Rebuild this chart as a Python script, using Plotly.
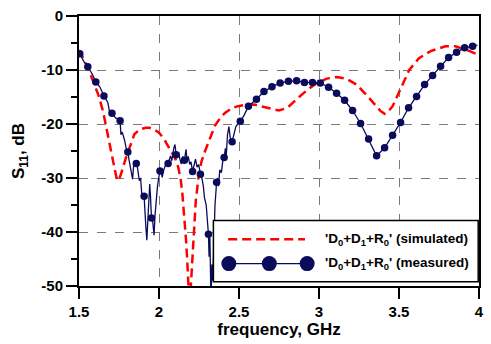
import plotly.graph_objects as go

# ---------------- data ----------------
# simulated (red dashed)
freq_sim = [1.500, 1.550, 1.588, 1.620, 1.650, 1.670, 1.691, 1.715, 1.733, 1.745, 1.760, 1.794,
            1.820, 1.846, 1.880, 1.918, 1.940, 1.970, 2.000, 2.030, 2.051, 2.080, 2.103, 2.120,
            2.134, 2.145, 2.154, 2.162, 2.169, 2.176, 2.181, 2.190, 2.200, 2.206, 2.216, 2.230,
            2.247, 2.265, 2.288, 2.320, 2.350, 2.380, 2.410, 2.453, 2.494, 2.535, 2.597, 2.650,
            2.699, 2.750, 2.802, 2.834, 2.864, 2.926, 2.988, 3.049, 3.110, 3.170, 3.235, 3.296,
            3.358, 3.385, 3.410, 3.435, 3.460, 3.500, 3.530, 3.564, 3.625, 3.698, 3.790, 3.852,
            3.924, 3.996]
s11_sim = [-6.3, -9.2, -12.1, -14.5, -17.6, -20.5, -23.8, -27.5, -29.8, -30.5, -29.5, -26.2,
           -24.0, -21.9, -21.0, -20.7, -20.7, -21.0, -21.6, -22.7, -23.8, -25.3, -26.5, -28.0,
           -29.9, -32.5, -35.4, -38.5, -41.5, -45.0, -47.7, -53.5, -49.5, -46.4, -40.3, -34.2,
           -29.9, -27.0, -25.0, -22.5, -20.3, -19.0, -18.0, -17.1, -16.7, -16.5, -16.4, -16.8,
           -17.2, -17.5, -17.0, -16.2, -15.3, -13.7, -12.4, -11.6, -11.3, -11.6, -12.7, -14.6,
           -16.7, -17.6, -18.1, -17.6, -16.7, -14.0, -12.0, -10.0, -7.8, -6.5, -5.6, -5.6,
           -6.3, -7.2]

# measured: marker points
freq_meas_mk = [1.505, 1.555, 1.605, 1.656, 1.706, 1.757, 1.805, 1.858, 1.907, 1.953,
                2.006, 2.057, 2.107, 2.159, 2.210, 2.259, 2.309, 2.360, 2.407, 2.457,
                2.508, 2.559, 2.609, 2.656, 2.706, 2.757, 2.809, 2.860, 2.909, 2.959,
                3.008, 3.060, 3.110, 3.160, 3.210, 3.260, 3.310, 3.360, 3.410, 3.460,
                3.510, 3.560, 3.610, 3.660, 3.710, 3.760, 3.810, 3.860, 3.910, 3.960]
s11_meas_mk = [-7.0, -9.4, -12.2, -14.8, -18.0, -19.4, -25.2, -27.3, -33.4, -37.4,
               -28.7, -27.3, -25.7, -26.7, -28.8, -29.3, -40.4, -30.8, -26.2, -23.3,
               -19.5, -16.7, -15.4, -14.0, -13.1, -12.4, -12.1, -12.0, -12.3, -12.3,
               -12.4, -13.2, -14.3, -15.6, -17.5, -19.9, -22.8, -25.9, -24.4, -22.1,
               -19.7, -17.0, -14.9, -12.7, -11.0, -9.3, -7.7, -6.7, -5.9, -5.6]

# measured: additional (noisy) points between markers
freq_meas_extra = [1.530, 1.580, 1.630, 1.680, 1.690, 1.730, 1.745,
                   1.762, 1.770, 1.785, 1.795,
                   1.815, 1.825, 1.835, 1.842, 1.850,
                   1.865, 1.877, 1.885, 1.893, 1.900,
                   1.912, 1.918, 1.924, 1.930, 1.936, 1.942, 1.947,
                   1.960, 1.969, 1.975, 1.982, 1.990, 1.998,
                   2.015, 2.020, 2.030, 2.040, 2.048,
                   2.065, 2.072, 2.080, 2.088, 2.093, 2.100,
                   2.115, 2.122, 2.130, 2.139, 2.148,
                   2.165, 2.169, 2.176, 2.183, 2.192, 2.200,
                   2.218, 2.228, 2.238, 2.248,
                   2.268, 2.277, 2.284, 2.295, 2.302,
                   2.313, 2.318, 2.325, 2.330, 2.336, 2.342, 2.350,
                   2.366, 2.372, 2.380, 2.390, 2.398,
                   2.415, 2.420, 2.428, 2.437, 2.445,
                   2.470, 2.480, 2.492, 2.500,
                   2.530, 2.545, 3.990]
s11_meas_extra = [-8.4, -10.6, -13.1, -16.0, -17.6, -18.9, -19.0,
                  -22.0, -21.5, -23.0, -24.5,
                  -27.0, -28.5, -30.2, -27.5, -26.8,
                  -28.0, -30.5, -30.0, -33.3, -33.0,
                  -37.0, -39.1, -41.5, -38.0, -33.0, -31.1, -33.5,
                  -37.8, -40.6, -37.0, -34.0, -31.7, -30.0,
                  -29.0, -29.9, -28.5, -27.8, -27.0,
                  -26.5, -25.9, -26.8, -25.0, -24.4, -23.8,
                  -26.0, -25.2, -26.4, -27.4, -26.0,
                  -25.5, -24.7, -27.0, -26.0, -27.5, -27.0,
                  -27.5, -26.5, -28.0, -27.5,
                  -30.0, -31.5, -33.6, -35.0, -38.0,
                  -44.6, -41.0, -53.0, -46.0, -49.0, -42.0, -35.0,
                  -30.0, -31.5, -28.5, -29.0, -27.0,
                  -24.5, -26.0, -22.0, -20.5, -22.5,
                  -21.5, -20.5, -20.0, -19.8,
                  -18.5, -17.5, -5.4]

x_tickvals = [1.5, 2, 2.5, 3, 3.5, 4]
x_ticktext = ["1.5", "2", "2.5", "3", "3.5", "4"]
y_tickvals = [0, -10, -20, -30, -40, -50]
y_ticktext = ["0", "-10", "-20", "-30", "-40", "-50"]
y_minor_vals = [-5, -15, -25, -35, -45]

label_sim = "'D<sub>0</sub>+D<sub>1</sub>+R<sub>0</sub>' (simulated)"
label_meas = "'D<sub>0</sub>+D<sub>1</sub>+R<sub>0</sub>' (measured)"

# ---------------- figure ----------------
NAVY = "#0b0b5c"
RED = "#ff0000"
FONT = "Liberation Sans"

pairs = sorted(zip(freq_meas_mk + freq_meas_extra, s11_meas_mk + s11_meas_extra))
freq_meas_line = [p[0] for p in pairs]
s11_meas_line = [p[1] for p in pairs]

fig = go.Figure()
fig.add_trace(go.Scatter(x=freq_sim, y=s11_sim, mode="lines",
                         line=dict(color=RED, width=2.5, dash="9px,5px"),
                         name="simulated", showlegend=False))
fig.add_trace(go.Scatter(x=freq_meas_line, y=s11_meas_line, mode="lines",
                         line=dict(color=NAVY, width=1.3),
                         name="measured line", showlegend=False))
fig.add_trace(go.Scatter(x=freq_meas_mk, y=s11_meas_mk, mode="markers",
                         marker=dict(color=NAVY, size=7.5),
                         name="measured", showlegend=False))

axis_common = dict(showline=True, linecolor="black", linewidth=2, mirror=True,
                   showgrid=True, gridcolor="#7a7a7a", gridwidth=1, griddash="dash",
                   zeroline=False, ticks="outside", tickcolor="black", tickwidth=2,
                   tickfont=dict(family=FONT, size=15, color="black", weight="bold"))

fig.update_xaxes(range=[1.5, 4], tickvals=x_tickvals, ticktext=x_ticktext, ticklen=11,
                 title=dict(text="frequency, GHz", standoff=4,
                            font=dict(family=FONT, size=17, color="black", weight="bold")),
                 **axis_common)
fig.update_yaxes(range=[-50, 0], tickvals=y_tickvals, ticktext=y_ticktext, ticklen=11,
                 minor=dict(tickvals=y_minor_vals, ticklen=6, ticks="outside",
                            tickcolor="black", tickwidth=2, showgrid=False),
                 title=dict(text="S<sub>11</sub>, dB", standoff=12,
                            font=dict(family=FONT, size=17, color="black", weight="bold")),
                 **axis_common)

# legend box drawn in paper coordinates
shapes = [
    dict(type="rect", xref="paper", yref="paper", x0=0.336, x1=0.998, y0=0.016, y1=0.243,
         line=dict(color="black", width=1.5), fillcolor="white", layer="above"),
    dict(type="line", xref="paper", yref="paper", x0=0.373, x1=0.565, y0=0.173, y1=0.173,
         line=dict(color=RED, width=2.5, dash="9px,5px"), layer="above"),
    dict(type="line", xref="paper", yref="paper", x0=0.3746, x1=0.5704, y0=0.083, y1=0.083,
         line=dict(color=NAVY, width=1.3), layer="above"),
]
for xc in [0.3746, 0.4758, 0.5704]:
    shapes.append(dict(type="circle", xref="paper", yref="paper", xsizemode="pixel",
                       ysizemode="pixel", xanchor=xc, yanchor=0.083, x0=-7.5, x1=7.5,
                       y0=-7.5, y1=7.5, fillcolor=NAVY, line=dict(color=NAVY, width=0),
                       layer="above"))

annotations = [
    dict(xref="paper", yref="paper", x=0.611, y=0.173, text=label_sim, showarrow=False,
         xanchor="left", yanchor="middle",
         font=dict(family=FONT, size=13.5, color="black", weight="bold")),
    dict(xref="paper", yref="paper", x=0.611, y=0.083, text=label_meas, showarrow=False,
         xanchor="left", yanchor="middle",
         font=dict(family=FONT, size=13.5, color="black", weight="bold")),
]

fig.update_layout(width=491, height=344, margin=dict(l=79, r=7, t=14, b=58),
                  paper_bgcolor="white", plot_bgcolor="white",
                  shapes=shapes, annotations=annotations, showlegend=False)

fig.write_html("out.html")
